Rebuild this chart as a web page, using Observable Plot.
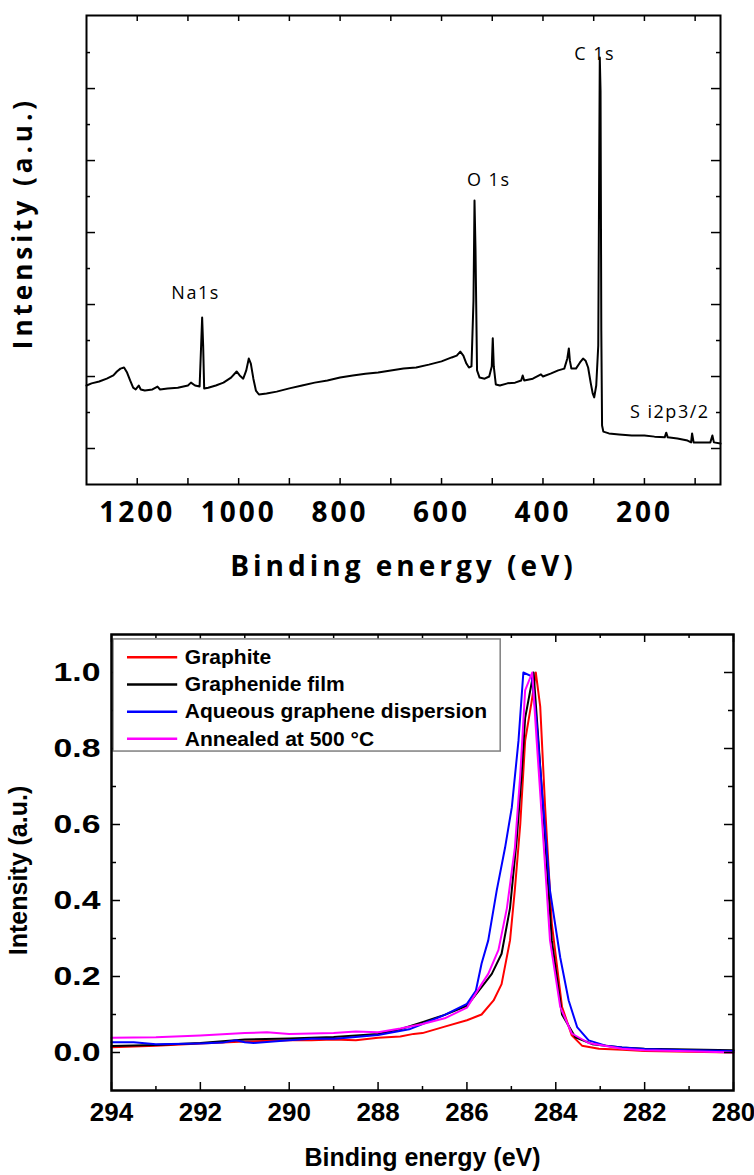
<!DOCTYPE html>
<html><head><meta charset="utf-8">
<script src="https://cdn.jsdelivr.net/npm/d3@7"></script>
<script src="https://cdn.jsdelivr.net/npm/@observablehq/plot@0.6"></script>
<style>
html,body{margin:0;padding:0;background:#fff;}
#chart{width:754px;}
#chart svg{display:block;}
</style></head><body><div id="chart"></div>
<script>
// ---------- Panel 1: XPS survey spectrum ----------
const surveyEnergy = [1300,1290,1275,1260,1247,1240,1233,1226,1220,1214,
  1208,1203,1197,1193,1185,1170,1160,1155,1140,1120,
  1100,1094,1086,1077,1074,1072,1070,1068,1060,1045,
  1030,1015,1004,998,991,985,980,976,971,966,
  960,945,925,900,875,850,825,800,775,750,
  725,700,675,650,625,600,580,570,563,557,
  551,546,541,537,535,533,530,525,515,506,
  501,499,497,493,485,470,455,443,440,437,
  420,404,400,385,370,358,352,349,347,344,
  335,327,321,316,311,306,302,299,295,291,
  289,288,286.5,285,283.5,281,270,250,225,200,
  180,160,157,154,135,115,108,106,103,85,
  70,66,63,50];
const surveyIntensity = [2.75,2.81,2.86,2.94,3.03,3.14,3.22,3.25,3.11,2.89,
  2.69,2.64,2.75,2.64,2.61,2.64,2.72,2.64,2.67,2.69,
  2.75,2.83,2.75,2.72,3.86,4.64,3.86,2.67,2.69,2.75,
  2.83,2.97,3.14,3.03,2.94,3.17,3.50,3.36,2.94,2.61,
  2.50,2.53,2.58,2.67,2.75,2.83,2.89,2.97,3.03,3.08,
  3.11,3.17,3.22,3.25,3.33,3.42,3.53,3.58,3.69,3.58,
  3.36,3.25,3.28,5.11,7.89,6.50,3.17,2.97,2.94,3.00,
  3.28,4.06,3.28,2.78,2.75,2.81,2.83,2.89,3.03,2.89,
  2.94,3.06,3.00,3.08,3.17,3.22,3.50,3.78,3.44,3.22,
  3.22,3.39,3.50,3.44,3.25,2.83,2.53,2.42,2.75,3.86,
  9.28,11.86,10.94,4.28,1.64,1.47,1.42,1.39,1.36,1.36,
  1.33,1.31,1.44,1.31,1.28,1.22,1.17,1.42,1.17,1.17,
  1.17,1.36,1.17,1.14];
const surveyTickLabels = [1200, 1000, 800, 600, 400, 200];
const surveyMinorTicks = [1200,1100,1000,900,800,700,600,500,400,300,200,100];
const surveyYMajor = [1, 3, 5, 7, 9, 11];
const surveyYMinor = [2, 4, 6, 8, 10, 12];
const peakNames = ["Na1s", "O 1s", "C 1s", "S i2p3/2"];
const peakLabelEnergy = [1085, 507, 298, 150];
const peakLabelIntensity = [5.31, 8.44, 11.94, 2.0];

// ---------- Panel 2: C 1s spectra ----------
const seriesNames = ["Graphite", "Graphenide film", "Aqueous graphene dispersion", "Annealed at 500 °C"];
const seriesColors = ["#ff0000", "#000000", "#0000ff", "#ff00ff"];
const graphiteEnergy = [294,293,292,291,290,289.5,289,288.5,288,287.5,287.2,287,286.5,286,285.8,285.67,285.4,285.22,285.03,284.92,284.8,284.69,284.54,284.45,284.35,284.24,284.09,283.86,283.64,283.41,283.03,282.5,282,281,280];
const graphiteIntensity = [0.014,0.018,0.024,0.029,0.032,0.032,0.034,0.032,0.039,0.042,0.049,0.051,0.068,0.085,0.094,0.100,0.137,0.180,0.295,0.430,0.600,0.820,0.926,1.000,0.910,0.645,0.340,0.120,0.045,0.018,0.010,0.0075,0.004,0.002,0.000];
const filmEnergy = [294,293,292,291,290,289,288,287.5,287,286.5,286,285.67,285.44,285.22,285.03,284.88,284.77,284.69,284.5,284.39,284.24,284.09,283.86,283.56,283.18,282.51,282,281,280];
const filmIntensity = [0.017,0.020,0.025,0.034,0.037,0.041,0.049,0.061,0.080,0.099,0.123,0.172,0.207,0.260,0.380,0.560,0.730,0.880,1.000,0.820,0.560,0.295,0.100,0.040,0.022,0.013,0.010,0.008,0.006];
const dispersionEnergy = [294,293.5,293,292,291.5,291.2,291,290.8,290,289.5,289,288.7,288,287.3,287,286.5,286,285.8,285.67,285.52,285.33,285.14,284.99,284.84,284.73,284.54,284.43,284.28,284.13,283.9,283.71,283.52,283.26,282.88,282.51,282,281,280];
const dispersionIntensity = [0.027,0.027,0.022,0.024,0.026,0.032,0.027,0.025,0.032,0.036,0.036,0.039,0.046,0.061,0.075,0.099,0.128,0.162,0.234,0.295,0.426,0.540,0.645,0.820,1.000,0.990,0.866,0.645,0.426,0.250,0.137,0.067,0.032,0.018,0.013,0.009,0.006,0.004];
const annealedEnergy = [294,293,292,291,290.5,290,289,288.5,288,287.5,287,286.5,286,285.67,285.52,285.29,285.1,284.92,284.8,284.69,284.53,284.43,284.28,284.13,283.9,283.64,283.26,282.51,282,281,280];
const annealedIntensity = [0.0385,0.040,0.045,0.051,0.053,0.049,0.051,0.055,0.053,0.063,0.075,0.090,0.118,0.180,0.207,0.270,0.380,0.540,0.730,0.953,1.000,0.820,0.560,0.295,0.120,0.050,0.025,0.010,0.006,0.003,0.000];
const c1sTickLabels = [294, 292, 290, 288, 286, 284, 282, 280];
const c1sMinorTicks = [293, 291, 289, 287, 285, 283, 281];
const intensityTickLabels = [0.0, 0.2, 0.4, 0.6, 0.8, 1.0];
const intensityMinorTicks = [0.1, 0.3, 0.5, 0.7, 0.9];

// ---------- build tables ----------
const survey = surveyEnergy.map((e, i) => ({e, v: surveyIntensity[i]}));
const seriesE = [graphiteEnergy, filmEnergy, dispersionEnergy, annealedEnergy];
const seriesI = [graphiteIntensity, filmIntensity, dispersionIntensity, annealedIntensity];
const c1s = seriesNames.flatMap((name, s) => seriesE[s].map((e, i) => ({name, e, v: seriesI[s][i]})));

// ---------- Panel 1 ----------
const W1 = 754, H1 = 600, mL1 = 86, mR1 = 34, mT1 = 15, mB1 = 116;
const fh1 = H1 - mT1 - mB1, fw1 = W1 - mL1 - mR1;
const calibri = "'Open Sans', 'Lato', sans-serif";
const xTitle = "Binding energy (eV)", yTitle = "Intensity (a.u.)";
const top1 = Plot.plot({
  width: W1, height: H1,
  marginLeft: mL1, marginRight: mR1, marginTop: mT1, marginBottom: mB1,
  x: {domain: [1300, 50], axis: null},
  y: {domain: [0, 13.03], axis: null},
  style: {background: "white", fontFamily: calibri, color: "black"},
  marks: [
    Plot.line(survey, {x: "e", y: "v", stroke: "black", strokeWidth: 2}),
    Plot.tickX(surveyMinorTicks, {x: d => d, insetTop: fh1 - 6, stroke: "black", strokeWidth: 1.5}),
    Plot.tickX(surveyMinorTicks, {x: d => d, insetBottom: fh1 - 6, stroke: "black", strokeWidth: 1.5}),
    Plot.tickY(surveyYMajor, {y: d => d, insetRight: fw1 - 9, stroke: "black", strokeWidth: 1.5}),
    Plot.tickY(surveyYMajor, {y: d => d, insetLeft: fw1 - 9, stroke: "black", strokeWidth: 1.5}),
    Plot.tickY(surveyYMinor, {y: d => d, insetRight: fw1 - 4, stroke: "black", strokeWidth: 1.5}),
    Plot.tickY(surveyYMinor, {y: d => d, insetLeft: fw1 - 4, stroke: "black", strokeWidth: 1.5}),
    Plot.text(surveyTickLabels, {x: d => d, text: d => String(d), frameAnchor: "bottom", dy: 29, lineAnchor: "middle",
      textAnchor: "middle", fontSize: 28, fontWeight: "bold"}),
    Plot.text([xTitle], {text: d => d, frameAnchor: "bottom", dy: 83, lineAnchor: "middle", textAnchor: "middle",
      fontSize: 28, fontWeight: "bold"}),
    Plot.text([yTitle], {text: d => d, frameAnchor: "left", dx: -63, dy: -27, rotate: -90, lineAnchor: "middle",
      textAnchor: "middle", fontSize: 26, fontWeight: "bold"}),
    Plot.text(peakNames, {x: (d, i) => peakLabelEnergy[i], y: (d, i) => peakLabelIntensity[i], text: d => d,
      lineAnchor: "middle", textAnchor: "middle", fontSize: 18}),
    Plot.frame({stroke: "black", strokeWidth: 2})
  ]
});
const tickStrings = surveyTickLabels.map(String);
d3.select(top1).selectAll("text").each(function() {
  const t = this.textContent;
  let ls = null;
  if (tickStrings.includes(t)) ls = "3px";
  else if (t === xTitle || t === yTitle) ls = "4px";
  else if (peakNames.includes(t)) ls = "1.5px";
  if (ls) this.style.letterSpacing = ls;
});

// ---------- Panel 2 ----------
const W2 = 754, H2 = 575, mL2 = 111, mR2 = 21, mT2 = 34, mB2 = 85;
const fh2 = H2 - mT2 - mB2, fw2 = W2 - mL2 - mR2;
const arial = "'Liberation Sans', Arial, sans-serif";
const legendRows = seriesNames.map((name, i) => ({name, y: 1.04 - i * 0.0715}));
const bottom = Plot.plot({
  width: W2, height: H2,
  marginLeft: mL2, marginRight: mR2, marginTop: mT2, marginBottom: mB2,
  x: {domain: [294, 280], axis: null},
  y: {domain: [-0.1, 1.1], axis: null},
  color: {domain: seriesNames, range: seriesColors},
  style: {background: "white", fontFamily: arial, color: "black"},
  marks: [
    Plot.line(c1s, {x: "e", y: "v", z: "name", stroke: "name", strokeWidth: 2}),
    Plot.tickX(c1sTickLabels, {x: d => d, insetTop: fh2 - 8, stroke: "black", strokeWidth: 1.5}),
    Plot.tickX(c1sTickLabels, {x: d => d, insetBottom: fh2 - 8, stroke: "black", strokeWidth: 1.5}),
    Plot.tickX(c1sMinorTicks, {x: d => d, insetTop: fh2 - 4, stroke: "black", strokeWidth: 1.5}),
    Plot.tickX(c1sMinorTicks, {x: d => d, insetBottom: fh2 - 4, stroke: "black", strokeWidth: 1.5}),
    Plot.tickY(intensityTickLabels, {y: d => d, insetRight: fw2 - 9, stroke: "black", strokeWidth: 1.5}),
    Plot.tickY(intensityTickLabels, {y: d => d, insetLeft: fw2 - 9, stroke: "black", strokeWidth: 1.5}),
    Plot.tickY(intensityMinorTicks, {y: d => d, insetRight: fw2 - 5, stroke: "black", strokeWidth: 1.5}),
    Plot.tickY(intensityMinorTicks, {y: d => d, insetLeft: fw2 - 5, stroke: "black", strokeWidth: 1.5}),
    Plot.text(c1sTickLabels, {x: d => d, text: d => String(d), frameAnchor: "bottom", dy: 22, lineAnchor: "middle",
      textAnchor: "middle", fontSize: 26, fontWeight: "bold"}),
    Plot.text(intensityTickLabels, {y: d => d, text: d => d.toFixed(1), frameAnchor: "left", dx: -11, textAnchor: "end",
      lineAnchor: "middle", fontSize: 25, fontWeight: "bold"}),
    Plot.text([xTitle], {text: d => d, frameAnchor: "bottom", dy: 67, lineAnchor: "middle", textAnchor: "middle",
      fontSize: 25, fontWeight: "bold"}),
    Plot.text([yTitle], {text: d => d, frameAnchor: "left", dx: -93, dy: 8, rotate: -90, lineAnchor: "middle",
      textAnchor: "middle", fontSize: 25, fontWeight: "bold"}),
    // legend
    Plot.rect([seriesNames], {x1: 293.955, x2: 285.24, y1: 0.792, y2: 1.087, fill: "white", stroke: "#7f7f7f", strokeWidth: 1.5}),
    Plot.ruleY(legendRows, {y: "y", x1: 293.64, x2: 292.51, stroke: "name", strokeWidth: 2.5}),
    Plot.text(legendRows, {x: 292.35, y: "y", text: "name", textAnchor: "start", lineAnchor: "middle",
      fontSize: 21, fontWeight: "bold"}),
    Plot.frame({stroke: "black", strokeWidth: 2.5})
  ]
});
// widen the y tick labels horizontally as in the original figure
const yTickStrings = intensityTickLabels.map(d => d.toFixed(1));
d3.select(bottom).selectAll("text").each(function() {
  if (yTickStrings.includes(this.textContent)) {
    const tr = this.getAttribute("transform") || "";
    this.setAttribute("transform", tr + " scale(1.35,1)");
  }
});

const chart = document.getElementById("chart");
chart.appendChild(top1);
chart.appendChild(bottom);
</script>
</body></html>
